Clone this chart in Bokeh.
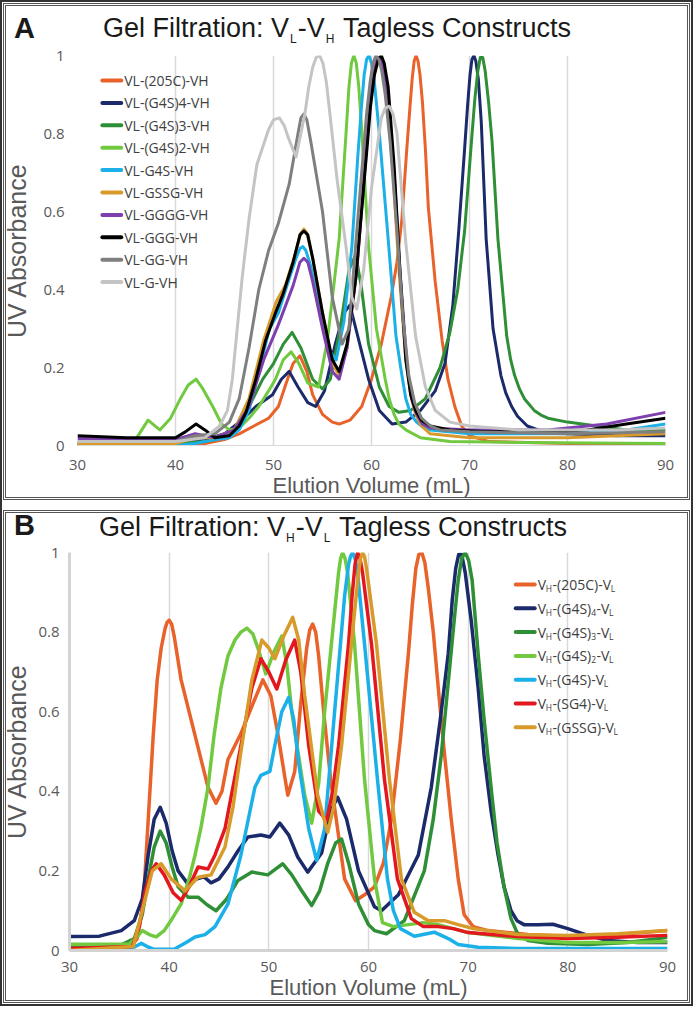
from bokeh.plotting import figure
from bokeh.models import Range1d, FixedTicker, Label, Div
from bokeh.layouts import column
from bokeh.embed import file_html
from bokeh.resources import INLINE

# ---------------- data ----------------
X_TICKS = [30, 40, 50, 60, 70, 80, 90]
Y_TICKS = [0, 0.2, 0.4, 0.6, 0.8, 1]
Y_TICK_LABELS = ["0", "0.2", "0.4", "0.6", "0.8", "1"]
X_LABEL = "Elution Volume (mL)"
Y_LABEL = "UV Absorbance"

A_LETTER = "A"
B_LETTER = "B"
A_TITLE = [("Gel Filtration: V", False), ("L", True), ("-V", False), ("H", True), (" Tagless Constructs", False)]
B_TITLE = [("Gel Filtration: V", False), ("H", True), ("-V", False), ("L", True), (" Tagless Constructs", False)]

A_LABELS = ["VL-(205C)-VH", "VL-(G4S)4-VH", "VL-(G4S)3-VH", "VL-(G4S)2-VH", "VL-G4S-VH",
            "VL-GSSG-VH", "VL-GGGG-VH", "VL-GGG-VH", "VL-GG-VH", "VL-G-VH"]
A_COLORS = ["#E8622A", "#1B2A6B", "#2F8F36", "#71C93F", "#1CB0E8",
            "#D89A2A", "#7E3FAF", "#000000", "#7F7F7F", "#C4C4C4"]

a_205c_x = [30, 40, 43, 45, 46.5, 48, 49.5, 50.5, 51.3, 52, 52.7, 53.4, 54, 55, 56, 56.7, 57.8, 59, 60, 61,
            62, 62.6, 63.1, 63.6, 63.9, 64.15, 64.35, 64.55, 64.75, 64.95, 65.2, 65.5, 65.8, 66.5, 67.2, 67.8, 68.5, 69.2,
            70, 72, 80, 90]
a_205c_y = [0.0, 0.0, 0.005, 0.015, 0.03, 0.05, 0.07, 0.10, 0.16, 0.21, 0.23, 0.19, 0.13, 0.08, 0.06, 0.055, 0.065, 0.10, 0.17, 0.26,
            0.38, 0.47, 0.58, 0.76, 0.86, 0.94, 0.985, 1.0, 0.985, 0.95, 0.88, 0.76, 0.61, 0.42, 0.27, 0.17, 0.10, 0.05,
            0.025, 0.01, 0.005, 0.005]

a_g4s4_x = [30, 40, 43, 45, 46.5, 48.2, 49.9, 50.8, 51.6, 52.5, 53.5, 54.3, 55.2, 56.3, 57.2, 57.8, 58.6, 59.7, 60.8, 62.1,
            63.5, 65, 66.5, 67.5, 68.3, 68.9, 69.5, 69.8, 70.05, 70.25, 70.45, 70.65, 70.9, 71.2, 71.7, 72.4, 73.2, 73.7, 74.3, 74.9,
            75.9, 77, 78, 80, 85, 90]
a_g4s4_y = [0.005, 0.005, 0.015, 0.03, 0.06, 0.10, 0.13, 0.17, 0.19, 0.15, 0.11, 0.10, 0.14, 0.26, 0.34, 0.36, 0.28, 0.17, 0.09, 0.055,
            0.06, 0.09, 0.14, 0.21, 0.36, 0.55, 0.76, 0.87, 0.95, 0.99, 1.0, 0.985, 0.94, 0.83, 0.53, 0.30, 0.18, 0.135, 0.10, 0.075,
            0.05, 0.04, 0.035, 0.03, 0.025, 0.025]

a_g4s3_x = [30, 40, 43, 45, 46.5, 47.5, 48.9, 50, 51, 51.9, 52.8, 54, 55, 55.8, 56.8, 57.7, 58.4, 59, 59.7, 60.8,
            61.8, 62.8, 64, 65.5, 67, 68, 68.8, 69.5, 70.2, 70.55, 70.85, 71.1, 71.35, 71.6, 71.95, 72.3, 72.9, 73.8, 74.2, 74.6,
            75.1, 75.6, 76.6, 77.3, 78, 80, 83, 86, 90]
a_g4s3_y = [0.005, 0.005, 0.01, 0.02, 0.05, 0.10, 0.17, 0.21, 0.26, 0.29, 0.25, 0.17, 0.145, 0.17, 0.30, 0.45, 0.49, 0.40, 0.26, 0.15,
            0.10, 0.085, 0.09, 0.12, 0.20, 0.29, 0.40, 0.55, 0.78, 0.89, 0.96, 0.995, 0.995, 0.96, 0.88, 0.78, 0.53, 0.28, 0.22, 0.18,
            0.145, 0.12, 0.09, 0.078, 0.07, 0.06, 0.05, 0.04, 0.04]

a_g4s2_x = [30, 35.5, 36.3, 37.2, 38.4, 39.5, 40.5, 41.3, 42.1, 42.8, 43.8, 44.7, 45.5, 46.5, 47.5, 48.5, 49.5, 50.2, 51, 51.8,
            52.6, 53.5, 54.6, 55.5, 56.2, 56.7, 57.4, 57.7, 57.95, 58.2, 58.45, 58.7, 58.95, 59.7, 60.5, 61.4, 61.8, 62.3, 62.8, 63.5,
            65, 68, 75, 90]
a_g4s2_y = [0.0, 0.0, 0.03, 0.065, 0.04, 0.07, 0.12, 0.155, 0.17, 0.145, 0.10, 0.055, 0.04, 0.045, 0.07, 0.10, 0.14, 0.17, 0.22, 0.24,
            0.21, 0.16, 0.15, 0.27, 0.42, 0.53, 0.80, 0.92, 0.98, 1.0, 0.98, 0.92, 0.83, 0.51, 0.30, 0.17, 0.12, 0.08, 0.055, 0.04,
            0.02, 0.01, 0.008, 0.005]

a_g4s_x = [30, 40, 42, 44, 45.5, 46.5, 47.5, 48.5, 49.6, 50.5, 51.5, 52.3, 52.7, 53, 53.3, 53.8, 55, 55.8, 56.4, 57.2,
           58, 58.6, 58.95, 59.25, 59.5, 59.75, 60.0, 60.3, 60.8, 61.7, 62.5, 63.1, 63.5, 64, 64.6, 65.2, 66, 70, 80, 86,
           90]
a_g4s_y = [0.0, 0.0, 0.005, 0.015, 0.02, 0.04, 0.09, 0.19, 0.30, 0.34, 0.42, 0.48, 0.505, 0.51, 0.50, 0.46, 0.32, 0.24, 0.22, 0.32,
           0.51, 0.74, 0.86, 0.95, 0.99, 1.0, 0.98, 0.93, 0.80, 0.53, 0.28, 0.18, 0.12, 0.08, 0.06, 0.048, 0.04, 0.03, 0.03, 0.04,
           0.055]

a_gssg_x = [30, 40, 42, 44, 46, 47.5, 49, 50.3, 51.2, 52.2, 52.8, 53.1, 53.4, 54, 55, 56, 56.7, 57.5, 58.5, 59.5,
            59.9, 60.3, 60.6, 60.9, 61.2, 61.5, 62.2, 62.8, 63.5, 64.0, 64.5, 65.1, 66, 70, 80, 90]
a_gssg_y = [0.005, 0.005, 0.02, 0.02, 0.04, 0.12, 0.27, 0.37, 0.41, 0.49, 0.545, 0.555, 0.545, 0.48, 0.34, 0.21, 0.18, 0.25, 0.45, 0.78,
            0.90, 0.97, 0.995, 0.995, 0.96, 0.91, 0.70, 0.45, 0.22, 0.13, 0.08, 0.05, 0.03, 0.02, 0.02, 0.03]

a_gggg_x = [30, 40, 42, 44, 46, 47.5, 49, 50.5, 52, 52.7, 53.1, 53.5, 54, 55, 56, 56.7, 57.5, 58.5, 59.5, 59.9,
            60.3, 60.65, 60.95, 61.3, 61.6, 62.3, 62.9, 63.6, 64.1, 64.6, 65.2, 66, 70, 78, 84, 90]
a_gggg_y = [0.018, 0.015, 0.03, 0.02, 0.04, 0.10, 0.22, 0.31, 0.41, 0.47, 0.48, 0.47, 0.42, 0.30, 0.19, 0.17, 0.25, 0.45, 0.77, 0.89,
            0.96, 0.995, 0.995, 0.96, 0.91, 0.70, 0.45, 0.21, 0.12, 0.08, 0.055, 0.045, 0.04, 0.04, 0.055, 0.085]

a_ggg_x = [30, 35, 40, 41, 42.1, 43, 44, 45.5, 46.5, 47.2, 48.2, 49.2, 50.2, 51, 52, 52.7, 53.1, 53.5, 54, 55,
           56, 56.7, 57.5, 58.4, 59.5, 59.9, 60.3, 60.7, 61.0, 61.3, 61.7, 62.3, 62.9, 63.5, 64.0, 64.5, 65.1, 66, 68, 72,
           78, 82, 86, 90]
a_ggg_y = [0.025, 0.02, 0.02, 0.035, 0.055, 0.04, 0.02, 0.025, 0.05, 0.085, 0.17, 0.27, 0.34, 0.39, 0.47, 0.54, 0.55, 0.54, 0.48, 0.34,
           0.22, 0.19, 0.26, 0.43, 0.75, 0.87, 0.95, 0.99, 1.0, 0.98, 0.92, 0.72, 0.45, 0.22, 0.13, 0.09, 0.065, 0.05, 0.04, 0.035,
           0.035, 0.04, 0.055, 0.07]

a_gg_x = [30, 40, 42, 44, 45.5, 46.5, 47.5, 48.5, 49.5, 50.5, 51.6, 52.5, 52.8, 53.1, 53.4, 53.8, 55, 56, 57, 57.7,
          58.5, 59.5, 59.85, 60.15, 60.45, 60.75, 61.05, 61.4, 61.9, 62.6, 63.2, 63.8, 64.4, 65.1, 66, 67, 70, 80, 90]
a_gg_y = [0.01, 0.01, 0.025, 0.03, 0.06, 0.12, 0.25, 0.40, 0.50, 0.57, 0.67, 0.80, 0.84, 0.85, 0.835, 0.78, 0.60, 0.38, 0.26, 0.30,
          0.55, 0.85, 0.93, 0.98, 1.0, 0.99, 0.96, 0.90, 0.78, 0.55, 0.33, 0.18, 0.11, 0.07, 0.05, 0.04, 0.035, 0.03, 0.035]

a_g_x = [30, 40, 43, 44.5, 45.3, 45.8, 46.3, 46.8, 47.5, 48.3, 49.5, 50.0, 50.6, 51.1, 51.5, 52.3, 53.2, 53.6, 54.0, 54.35,
         54.7, 55.05, 55.4, 55.8, 56.5, 57.4, 58, 58.5, 59.2, 60, 61, 61.4, 61.8, 62.2, 62.6, 63.5, 64.5, 65.5, 66.5, 68,
         70, 75, 80, 85, 90]
a_g_y = [0.01, 0.01, 0.02, 0.05, 0.09, 0.17, 0.30, 0.43, 0.58, 0.72, 0.81, 0.835, 0.84, 0.82, 0.79, 0.74, 0.85, 0.92, 0.97, 0.995,
         1.0, 0.98, 0.93, 0.84, 0.68, 0.51, 0.38, 0.35, 0.45, 0.66, 0.84, 0.865, 0.87, 0.85, 0.80, 0.52, 0.28, 0.15, 0.09, 0.06,
         0.05, 0.04, 0.04, 0.04, 0.045]

A_SERIES = [(a_205c_x, a_205c_y), (a_g4s4_x, a_g4s4_y), (a_g4s3_x, a_g4s3_y), (a_g4s2_x, a_g4s2_y),
            (a_g4s_x, a_g4s_y), (a_gssg_x, a_gssg_y), (a_gggg_x, a_gggg_y), (a_ggg_x, a_ggg_y),
            (a_gg_x, a_gg_y), (a_g_x, a_g_y)]

B_LABELS = [
    [("V", False), ("H", True), ("-(205C)-V", False), ("L", True)],
    [("V", False), ("H", True), ("-(G4S)", False), ("4", True), ("-V", False), ("L", True)],
    [("V", False), ("H", True), ("-(G4S)", False), ("3", True), ("-V", False), ("L", True)],
    [("V", False), ("H", True), ("-(G4S)", False), ("2", True), ("-V", False), ("L", True)],
    [("V", False), ("H", True), ("-(G4S)-V", False), ("L", True)],
    [("V", False), ("H", True), ("-(SG4)-V", False), ("L", True)],
    [("V", False), ("H", True), ("-(GSSG)-V", False), ("L", True)],
]
B_COLORS = ["#E8622A", "#1B2A6B", "#2F8F36", "#71C93F", "#1CB0E8", "#E3171E", "#D89A2A"]

b_205c_x = [30, 36, 36.8, 37.4, 37.9, 38.4, 38.8, 39.2, 39.6, 39.8, 40, 40.25, 40.5, 41.2, 42.6, 43.9, 44.7, 45.3, 45.9, 47.2,
            48.4, 49.4, 50.2, 50.9, 51.9, 52.6, 53.2, 53.8, 54.1, 54.4, 54.7, 55.0, 55.5, 56.2, 57.6, 58.7, 59.6, 60.6, 61.5, 62.3,
            63.2, 64.0, 64.4, 64.75, 65.05, 65.35, 65.65, 66.0, 66.5, 67, 67.6, 68.3, 69, 69.6, 70.5, 72, 76, 80, 85, 90]
b_205c_y = [0.005, 0.005, 0.03, 0.117, 0.33, 0.54, 0.68, 0.76, 0.81, 0.825, 0.83, 0.82, 0.79, 0.68, 0.54, 0.41, 0.37, 0.40, 0.48, 0.545,
            0.62, 0.68, 0.64, 0.545, 0.39, 0.45, 0.62, 0.76, 0.805, 0.82, 0.80, 0.74, 0.60, 0.43, 0.18, 0.125, 0.14, 0.16, 0.22, 0.33,
            0.53, 0.745, 0.87, 0.96, 0.995, 1.0, 0.975, 0.91, 0.80, 0.66, 0.50, 0.33, 0.18, 0.09, 0.06, 0.05, 0.04, 0.035, 0.04, 0.05]

b_g4s4_x = [30, 33, 35.2, 36.5, 37.3, 37.9, 38.5, 39.1, 39.7, 40.3, 40.9, 41.8, 42.8, 43.5, 44.2, 45, 45.9, 46.9, 47.9, 49.2,
            50.1, 51.1, 52, 52.9, 53.9, 55.3, 56.2, 56.9, 57.8, 59, 60.6, 61.3, 63, 65, 66.3, 67.2, 68, 68.4, 68.75, 69.05,
            69.35, 69.7, 70.3, 71.0, 71.6, 72.3, 73, 73.6, 74.3, 74.9, 75.6, 77, 78.5, 80, 82, 84, 87, 90]
b_g4s4_y = [0.035, 0.036, 0.05, 0.075, 0.13, 0.24, 0.33, 0.36, 0.32, 0.25, 0.20, 0.17, 0.18, 0.185, 0.17, 0.18, 0.21, 0.25, 0.285, 0.29,
            0.285, 0.32, 0.29, 0.235, 0.197, 0.245, 0.35, 0.385, 0.33, 0.20, 0.11, 0.10, 0.14, 0.24, 0.41, 0.58, 0.745, 0.88, 0.96, 0.995,
            0.995, 0.95, 0.83, 0.66, 0.49, 0.35, 0.24, 0.16, 0.10, 0.075, 0.065, 0.065, 0.066, 0.055, 0.038, 0.025, 0.02, 0.02]

b_g4s3_x = [30, 35, 36.5, 37.3, 37.9, 38.5, 39.1, 39.7, 40.3, 40.9, 41.9, 42.9, 43.8, 44.7, 45.8, 46.9, 48.3, 49.9, 50.7, 51.4,
            52.3, 53.3, 54.3, 55.1, 55.9, 56.7, 57.3, 58, 59, 60, 60.6, 61.8, 63.6, 65.6, 66.5, 67.3, 68.6, 69.0, 69.35, 69.7,
            70.05, 70.4, 71, 71.6, 72.3, 72.9, 73.6, 74.3, 75, 76, 78, 82, 86, 90]
b_g4s3_y = [0.012, 0.012, 0.03, 0.09, 0.18, 0.26, 0.30, 0.27, 0.21, 0.16, 0.134, 0.134, 0.115, 0.10, 0.13, 0.176, 0.197, 0.19, 0.205, 0.218,
            0.19, 0.15, 0.113, 0.15, 0.218, 0.27, 0.28, 0.22, 0.117, 0.065, 0.05, 0.042, 0.075, 0.20, 0.33, 0.49, 0.83, 0.93, 0.985, 1.0,
            0.98, 0.93, 0.745, 0.58, 0.41, 0.27, 0.16, 0.08, 0.04, 0.025, 0.018, 0.015, 0.02, 0.033]

b_g4s2_x = [30, 36, 36.8, 37.3, 38, 38.7, 39.5, 40.3, 41.2, 42, 42.6, 43.2, 43.9, 44.5, 45.2, 45.9, 46.6, 47.2, 47.8, 48.4,
            48.9, 49.7, 50.5, 51.3, 51.8, 52.3, 53.6, 54.3, 55, 55.6, 56.6, 57.0, 57.2, 57.4, 57.65, 57.9, 58.6, 59.6, 60.6, 61.4,
            62.5, 64, 65.5, 67, 70, 75, 80, 85, 90]
b_g4s2_y = [0.016, 0.016, 0.035, 0.05, 0.04, 0.034, 0.05, 0.08, 0.117, 0.18, 0.24, 0.31, 0.41, 0.54, 0.66, 0.74, 0.78, 0.80, 0.81, 0.795,
            0.76, 0.695, 0.75, 0.79, 0.72, 0.60, 0.39, 0.32, 0.42, 0.60, 0.85, 0.95, 0.985, 1.0, 0.985, 0.95, 0.77, 0.43, 0.18, 0.07,
            0.06, 0.065, 0.07, 0.065, 0.045, 0.03, 0.02, 0.02, 0.022]

b_g4s_x = [30, 36, 36.6, 37.2, 37.8, 38.5, 40.5, 41.7, 42.6, 43.6, 44.6, 45.9, 47.2, 48.6, 49.2, 50.1, 50.6, 51.3, 52, 52.5,
           53, 54, 54.8, 55.6, 56.6, 57.6, 58.0, 58.2, 58.4, 58.65, 58.9, 59.6, 60.9, 61.9, 62.5, 63.2, 64.6, 66.6, 68, 69,
           71, 75, 90]
b_g4s_y = [0.004, 0.004, 0.01, 0.018, 0.01, 0.003, 0.003, 0.02, 0.034, 0.04, 0.06, 0.117, 0.24, 0.41, 0.44, 0.45, 0.515, 0.60, 0.636, 0.58,
           0.47, 0.306, 0.226, 0.306, 0.60, 0.89, 0.97, 0.99, 1.0, 0.985, 0.95, 0.77, 0.43, 0.18, 0.10, 0.055, 0.036, 0.046, 0.03, 0.015,
           0.008, 0.005, 0.005]

b_sg4_x = [30, 36.3, 37, 37.6, 38.2, 38.7, 39.5, 40.4, 41.2, 42, 42.9, 43.9, 44.6, 45.6, 47.2, 48.3, 49.2, 50, 50.8, 51.7,
           52.6, 53.2, 54, 55, 55.8, 56.4, 57, 58, 58.35, 58.65, 58.9, 59.15, 59.4, 60.3, 61.6, 62.9, 64.3, 65.5, 67, 68.5,
           70, 75, 80, 85, 90]
b_sg4_y = [0.005, 0.01, 0.06, 0.15, 0.20, 0.218, 0.19, 0.145, 0.126, 0.16, 0.21, 0.205, 0.24, 0.306, 0.515, 0.66, 0.733, 0.70, 0.657, 0.73,
           0.78, 0.70, 0.515, 0.35, 0.327, 0.40, 0.515, 0.77, 0.89, 0.97, 1.0, 0.985, 0.95, 0.77, 0.43, 0.18, 0.08, 0.06, 0.06, 0.055,
           0.045, 0.035, 0.03, 0.033, 0.038]

b_gssg_x = [30, 36.4, 37.3, 38.3, 39.2, 40.2, 41.6, 42.9, 44.2, 45.6, 46.4, 47.2, 48.3, 49.3, 50, 50.6, 51.5, 52.4, 53, 53.6,
            54.9, 55.9, 56.5, 57.3, 58.6, 59, 59.2, 59.4, 59.6, 59.8, 60.8, 62.1, 63.3, 64.6, 66, 67.6, 69, 70.5, 75, 80,
            85, 90]
b_gssg_y = [0.0, 0.01, 0.10, 0.20, 0.218, 0.18, 0.15, 0.184, 0.19, 0.26, 0.36, 0.50, 0.68, 0.78, 0.76, 0.733, 0.79, 0.837, 0.78, 0.64,
            0.39, 0.297, 0.36, 0.515, 0.85, 0.95, 0.985, 1.0, 0.99, 0.96, 0.77, 0.43, 0.18, 0.096, 0.075, 0.075, 0.065, 0.055, 0.04, 0.038,
            0.042, 0.05]

B_SERIES = [(b_205c_x, b_205c_y), (b_g4s4_x, b_g4s4_y), (b_g4s3_x, b_g4s3_y), (b_g4s2_x, b_g4s2_y),
            (b_g4s_x, b_g4s_y), (b_sg4_x, b_sg4_y), (b_gssg_x, b_gssg_y)]

# ---------------- layout / styling ----------------
W = 693
OPENS = {'V': .58, 'H': .74, 'L': .52, '-': .32, '(': .30, ')': .30, 'C': .63, 'G': .72, 'S': .55}


def tw(s, size):
    return sum(OPENS.get(ch, 0.57) for ch in s) * size


def title_div(letter, segs, height, letter_left, letter_top, title_left, title_top):
    parts = []
    for s, sub in segs:
        if sub:
            parts.append('<span style="font-size:12px;position:relative;top:6px;margin:0 1px;">%s</span>' % s)
        else:
            parts.append(s.replace(" ", "&nbsp;"))
    html = ('<div style="position:relative;width:%dpx;height:%dpx;font-family:\'Liberation Sans\';color:#1a1a1a;">'
            '<span style="position:absolute;left:%dpx;top:%dpx;font-size:29px;line-height:29px;font-weight:bold;">%s</span>'
            '<span style="position:absolute;left:%dpx;top:%dpx;font-size:27px;line-height:27px;white-space:nowrap;">%s</span>'
            '</div>') % (W, height, letter_left, letter_top, letter, title_left, title_top, "".join(parts))
    return Div(text=html, width=W, height=height, margin=0)


def make_fig(height, fr, axis_w, axis_c, tick_standoff, label_standoff, ylabel_standoff):
    L, T, FW, FH = fr
    p = figure(width=W, height=height, x_range=Range1d(30, 90), y_range=Range1d(0, 1),
               output_backend="svg", toolbar_location=None, tools="",
               min_border_left=L, min_border_right=W - L - FW, min_border_top=T,
               min_border_bottom=height - T - FH, margin=0)
    p.outline_line_color = None
    p.background_fill_color = None
    p.border_fill_color = None
    p.xgrid.ticker = FixedTicker(ticks=X_TICKS)
    p.xgrid.grid_line_color = "#d9d9d9"
    p.xgrid.grid_line_width = 1.5
    p.ygrid.visible = False
    p.xaxis.ticker = FixedTicker(ticks=X_TICKS)
    p.yaxis.ticker = FixedTicker(ticks=Y_TICKS)
    p.yaxis.major_label_overrides = {t: s for t, s in zip(Y_TICKS, Y_TICK_LABELS)}
    for ax in (p.xaxis[0], p.yaxis[0]):
        ax.major_tick_line_color = None
        ax.minor_tick_line_color = None
        ax.major_label_text_font = "Open Sans"
        ax.major_label_text_font_size = "15px"
        ax.major_label_text_color = "#595959"
        ax.axis_label_text_font = "Liberation Sans"
        ax.axis_label_text_font_style = "normal"
        ax.axis_label_text_color = "#595959"
    p.xaxis.axis_label_text_font_size = "22px"
    p.yaxis.axis_label_text_font_size = "25px"
    p.xaxis.axis_label = X_LABEL
    p.yaxis.axis_label = Y_LABEL
    p.xaxis.major_label_standoff = tick_standoff
    p.yaxis.major_label_standoff = tick_standoff - 1
    p.xaxis.axis_label_standoff = label_standoff
    p.yaxis.axis_label_standoff = ylabel_standoff
    p.xaxis.axis_line_color = axis_c
    p.xaxis.axis_line_width = axis_w
    if axis_w > 1:
        p.yaxis.axis_line_color = axis_c
        p.yaxis.axis_line_width = axis_w
    else:
        p.yaxis.axis_line_color = None
    return p


def to_data(fr, cx, cy):
    L, T, FW, FH = fr
    return 30 + (cx - L) * 60.0 / FW, 1 - (cy - T) / FH


def add_legend(p, fr, labels, colors, sw_x0, sw_x1, text_x, row0, step, size):
    x0s, x1s, ys = [], [], []
    for i, (lab, col) in enumerate(zip(labels, colors)):
        cy = row0 + i * step
        xa, ya = to_data(fr, sw_x0, cy)
        xb, _ = to_data(fr, sw_x1, cy)
        x0s.append(xa); x1s.append(xb); ys.append(ya)
        segs = [(lab, False)] if isinstance(lab, str) else lab
        cx = text_x
        for s, sub in segs:
            fs = 8.5 if sub else size
            x, y = to_data(fr, cx, cy + (4 if sub else 0))
            p.add_layout(Label(x=x, y=y, text=s, text_font="Open Sans", text_font_size=f"{fs}px",
                               text_color="#404040", text_baseline="middle"))
            cx += tw(s, fs) + (0.5 if sub else 0)
    p.segment(x0s, ys, x1s, ys, line_color=colors, line_width=4, line_cap="round")


# ---- panel A ----
DIV_A_H = 44
HA = 459
FRA = (74, 11, 591, 390)
div_a = title_div(A_LETTER, A_TITLE, DIV_A_H, 14, 14, 103, 15)
pa = make_fig(HA, FRA, 1, "#d9d9d9", 8, 0, 9)
for (xs, ys), col in zip(A_SERIES, A_COLORS):
    pa.line(xs, ys, line_color=col, line_width=3, line_join="round")
add_legend(pa, FRA, A_LABELS, A_COLORS, 99, 118, 121, 36, 22.4, 14)

# ---- panel B ----
DIV_B_H = 34
HB = 465
FRB = (68, 11, 599, 398)
div_b = title_div(B_LETTER, B_TITLE, DIV_B_H, 14, 4, 99, 7)
pb = make_fig(HB, FRB, 3, "#d3d3d3", 5, 0, 4)
for (xs, ys), col in zip(B_SERIES, B_COLORS):
    pb.line(xs, ys, line_color=col, line_width=3.5, line_join="round")
add_legend(pb, FRB, B_LABELS, B_COLORS, 515, 534, 537, 43, 23.8, 14)

box = {"outline": "3px double #555555", "outline-offset": "-6px"}
panel_a = column(div_a, pa, spacing=0, margin=0, styles=box)
panel_b = column(div_b, pb, spacing=0, margin=0, styles=box)
layout = column(panel_a, panel_b, spacing=4, margin=0,
                styles={"outline": "2px solid #333333", "outline-offset": "-2px"})
open("out.html", "w").write(file_html(layout, INLINE))
